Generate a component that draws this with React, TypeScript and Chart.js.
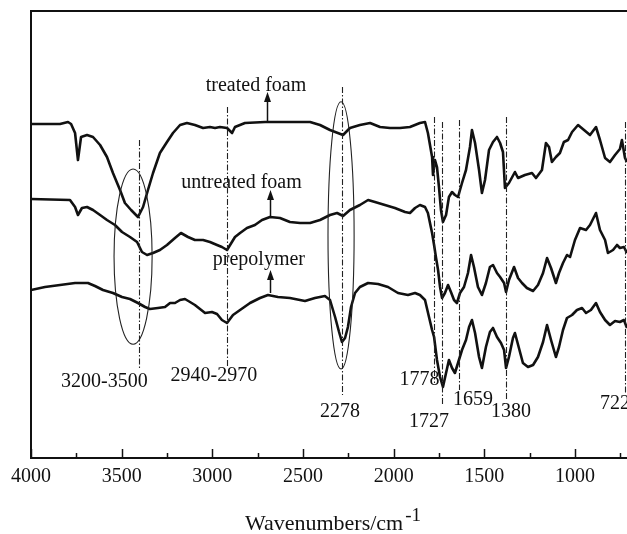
import React, { useEffect, useRef } from "react";
import { Chart, registerables } from "chart.js";

Chart.register(...registerables);

const FONT = "'Liberation Serif', 'Times New Roman', serif";

// x range (wavenumber, cm^-1), reversed axis
const X_MIN = 713;
const X_MAX = 4000;
const MAJOR_STEP = 500;
const xTickValues = [750, 1000, 1250, 1500, 1750, 2000, 2250, 2500, 2750, 3000, 3250, 3500, 3750, 4000];

// treated foam
const treatedWn = [4000, 3923, 3840, 3796, 3779, 3757, 3741, 3724, 3691, 3658, 3619, 3581, 3548, 3509, 3482, 3448, 3410, 3382, 3355, 3327, 3289, 3250, 3217, 3178, 3140, 3096, 3051, 3013, 2985, 2958, 2919, 2891, 2875, 2820, 2709, 2572, 2461, 2406, 2351, 2279, 2241, 2186, 2130, 2075, 2020, 1965, 1910, 1855, 1827, 1811, 1788, 1783, 1772, 1761, 1750, 1739, 1728, 1711, 1695, 1678, 1662, 1645, 1623, 1601, 1579, 1568, 1551, 1529, 1513, 1496, 1474, 1452, 1430, 1413, 1397, 1386, 1364, 1331, 1314, 1276, 1237, 1215, 1182, 1160, 1143, 1127, 1105, 1083, 1061, 1038, 1016, 983, 950, 917, 884, 862, 834, 807, 779, 752, 741, 724, 713];
const treatedT = [83.75, 83.75, 83.75, 84.25, 83.75, 81.5, 74.75, 80.5, 81, 80.5, 78.5, 75.5, 71.5, 67.25, 64, 62.25, 60.5, 63, 67.25, 71.5, 76.5, 79.25, 81.5, 83.5, 84, 83.5, 82.75, 83, 82.75, 83, 82.75, 81.5, 83, 84, 84.25, 84.25, 84.25, 83.5, 82.25, 81, 82.75, 83.5, 84, 83, 82.75, 82.75, 83, 84, 84.25, 81.5, 75.5, 71, 74.75, 73, 68, 62.25, 59.25, 61, 65.5, 66.75, 66, 65.5, 69, 72.25, 78, 82.25, 79, 72.25, 66.5, 69.75, 77.25, 79.25, 80.5, 79, 76.75, 67.75, 69, 71.75, 70.25, 71, 71.5, 70.25, 72.25, 79, 78, 74.25, 75.5, 76.5, 79.25, 79.75, 81.75, 83.5, 82.25, 81, 83, 79.75, 75.25, 74.25, 76, 77.5, 79.75, 75.25, 74.25];

// untreated foam
const untreatedWn = [4000, 3785, 3757, 3741, 3719, 3691, 3658, 3619, 3581, 3537, 3498, 3454, 3415, 3388, 3360, 3327, 3289, 3250, 3206, 3173, 3134, 3096, 3051, 3013, 2974, 2947, 2919, 2875, 2847, 2809, 2765, 2726, 2682, 2627, 2572, 2516, 2461, 2406, 2351, 2312, 2279, 2241, 2186, 2141, 2103, 2048, 1993, 1937, 1910, 1882, 1855, 1827, 1811, 1788, 1777, 1766, 1755, 1744, 1733, 1717, 1700, 1684, 1667, 1651, 1634, 1612, 1590, 1573, 1557, 1535, 1513, 1491, 1469, 1452, 1430, 1413, 1391, 1380, 1364, 1336, 1314, 1292, 1265, 1231, 1204, 1176, 1154, 1132, 1105, 1088, 1066, 1044, 1027, 1000, 972, 939, 917, 884, 862, 834, 818, 790, 768, 752, 730, 713];
const untreatedT = [65, 64.75, 63, 61, 62.75, 63, 62.25, 61, 59.75, 58.5, 56.75, 55.5, 54.25, 51.75, 51, 51.5, 52.25, 53.5, 55.25, 56.5, 55.5, 54.75, 54.75, 54.25, 53.5, 53, 52.25, 55.5, 56.5, 57.75, 58.5, 59.75, 60.5, 60.25, 59.25, 59, 59, 59.75, 61, 61.5, 60.75, 62.25, 63.5, 64.75, 64.25, 63.5, 62.75, 61.75, 61.5, 62.75, 63.5, 63, 61.5, 56.5, 53.5, 50.25, 47.25, 43, 40.25, 41.5, 43.5, 41.75, 39.75, 39, 41.5, 43, 46.5, 51, 48, 43, 41, 44, 48, 48.5, 46.5, 45.5, 44, 41.75, 44.75, 48, 45.25, 44, 42.75, 42, 43.5, 46.5, 50.25, 47.75, 44, 46.5, 49, 51, 50.5, 54.75, 57.75, 57.25, 58.5, 61.5, 57.25, 54.75, 51.5, 52.25, 53.5, 52.75, 53, 51.5];

// prepolymer
const prepolymerWn = [4000, 3923, 3840, 3757, 3686, 3647, 3603, 3548, 3498, 3454, 3410, 3371, 3344, 3300, 3261, 3233, 3206, 3178, 3151, 3123, 3096, 3068, 3040, 3002, 2974, 2947, 2919, 2886, 2847, 2792, 2737, 2693, 2638, 2572, 2489, 2434, 2379, 2351, 2323, 2301, 2285, 2268, 2252, 2235, 2213, 2186, 2141, 2086, 2031, 1976, 1921, 1882, 1855, 1827, 1805, 1788, 1777, 1761, 1744, 1728, 1711, 1695, 1678, 1662, 1645, 1623, 1601, 1584, 1568, 1551, 1529, 1513, 1491, 1469, 1452, 1430, 1408, 1391, 1380, 1364, 1342, 1331, 1309, 1287, 1259, 1231, 1204, 1176, 1154, 1132, 1105, 1088, 1066, 1044, 1016, 989, 961, 939, 912, 884, 862, 834, 807, 779, 752, 730, 713];
const prepolymerT = [42.25, 43, 43.5, 44, 44, 43.25, 42.25, 41.5, 40.5, 40, 39, 38, 37.5, 37.75, 38, 39, 39, 39.75, 40, 39.25, 38.5, 37.5, 36.5, 36.75, 36.25, 34.75, 34, 36, 37.25, 39, 40.25, 41, 40.5, 40.25, 39.5, 40.25, 40.75, 39.75, 35.5, 31.75, 29.25, 30.25, 33, 38, 41.5, 43, 44, 43.75, 43, 41.5, 41, 41.5, 41, 39.75, 35.5, 32.25, 30.5, 24.75, 20.5, 18, 21.5, 24.75, 22.75, 21.5, 24, 27.25, 29.75, 33, 34.75, 31.5, 25.5, 22.75, 28, 31.75, 32.75, 30.5, 29, 27.25, 22.75, 25.5, 30.25, 31.5, 27.75, 24, 23, 23.5, 25.5, 29.25, 33.5, 29.75, 25.5, 28, 32.25, 35.25, 36, 37.25, 37.75, 36.5, 37.25, 39, 36.75, 34.75, 33.5, 34.5, 34.25, 34.75, 32.75];

// dash-dot marker lines
const markWn = [3404, 2919, 2285, 1777, 1733, 1640, 1380, 724];
const markTop = [79.75, 88, 93, 85.5, 84.25, 84.75, 85.5, 84.25];
const markBottom = [22.75, 23, 16, 19, 13.5, 17.25, 14.75, 16.5];

// band labels
const bandLabels = ["3200-3500", "2940-2970", "2278", "1778", "1727", "1659", "1380", "722"];
const bandLabelWn = [3595, 2991, 2296, 1857, 1805, 1562, 1353, 779];
const bandLabelY = [18.1, 19.4, 10.4, 18.6, 7.9, 13.4, 10.6, 12.6];

// curve names with arrows
const seriesNames = ["treated foam", "untreated foam", "prepolymer"];
const nameWn = [2759, 2839, 2743];
const nameY = [92, 67.75, 48.5];
const arrowWn = [2698, 2682, 2682];
const arrowBase = [84.25, 60.25, 41.5];
const arrowTip = [91.75, 67.25, 47.25];

// ellipses (center wn, center y, radius wn, radius y)
const ellCx = [3437, 2290];
const ellCy = [50.6, 55.9];
const ellRx = [105, 72];
const ellRy = [21.9, 33.4];

const INK = "#111";

const isMajor = (v: number) => Math.abs(v - Math.round(v / MAJOR_STEP) * MAJOR_STEP) < 1e-3;

const annotPlugin = {
  id: "ftirAnnotations",
  afterDatasetsDraw(chart: any) {
    const ctx = chart.ctx as CanvasRenderingContext2D;
    const xs = chart.scales.x;
    const ys = chart.scales.y;
    const area = chart.chartArea;
    ctx.save();

    // inward ticks
    ctx.strokeStyle = INK;
    ctx.lineWidth = 1.5;
    ctx.setLineDash([]);
    for (const t of xs.ticks) {
      const px = Math.round(xs.getPixelForValue(t.value)) + 0.5;
      const len = isMajor(t.value) ? 9 : 5;
      ctx.beginPath();
      ctx.moveTo(px, area.bottom);
      ctx.lineTo(px, area.bottom - len);
      ctx.stroke();
    }

    // dash-dot marker lines
    ctx.lineWidth = 1.1;
    ctx.strokeStyle = "#222";
    ctx.setLineDash([6, 2, 1.5, 2]);
    markWn.forEach((w, i) => {
      const px = Math.round(xs.getPixelForValue(w)) + 0.5;
      ctx.beginPath();
      ctx.moveTo(px, ys.getPixelForValue(markTop[i]));
      ctx.lineTo(px, ys.getPixelForValue(markBottom[i]));
      ctx.stroke();
    });
    ctx.setLineDash([]);

    // ellipses
    ctx.lineWidth = 1.1;
    ctx.strokeStyle = "#222";
    ellCx.forEach((cx, i) => {
      const px = xs.getPixelForValue(cx);
      const py = ys.getPixelForValue(ellCy[i]);
      const rx = Math.abs(xs.getPixelForValue(cx + ellRx[i]) - px);
      const ry = Math.abs(ys.getPixelForValue(ellCy[i] + ellRy[i]) - py);
      ctx.beginPath();
      ctx.ellipse(px, py, rx, ry, 0, 0, Math.PI * 2);
      ctx.stroke();
    });

    // arrows
    ctx.fillStyle = INK;
    ctx.strokeStyle = INK;
    ctx.lineWidth = 1.5;
    arrowWn.forEach((w, i) => {
      const px = Math.round(xs.getPixelForValue(w)) + 0.5;
      const yb = ys.getPixelForValue(arrowBase[i]);
      const yt = ys.getPixelForValue(arrowTip[i]);
      ctx.beginPath();
      ctx.moveTo(px, yb);
      ctx.lineTo(px, yt + 8);
      ctx.stroke();
      ctx.beginPath();
      ctx.moveTo(px, yt);
      ctx.lineTo(px - 3.5, yt + 10);
      ctx.lineTo(px + 3.5, yt + 10);
      ctx.closePath();
      ctx.fill();
    });

    // texts
    ctx.fillStyle = INK;
    ctx.font = `20px ${FONT}`;
    ctx.textAlign = "center";
    ctx.textBaseline = "alphabetic";
    seriesNames.forEach((s, i) => {
      ctx.fillText(s, xs.getPixelForValue(nameWn[i]), ys.getPixelForValue(nameY[i]));
    });
    bandLabels.forEach((s, i) => {
      ctx.fillText(s, xs.getPixelForValue(bandLabelWn[i]), ys.getPixelForValue(bandLabelY[i]));
    });

    // axis title with superscript
    const main = "Wavenumbers/cm";
    const sup = "-1";
    ctx.font = `22px ${FONT}`;
    const wMain = ctx.measureText(main).width;
    ctx.font = `19px ${FONT}`;
    const wSup = ctx.measureText(sup).width;
    const total = wMain + 2 + wSup;
    const x0 = 333 - total / 2;
    const base = area.bottom + 72;
    ctx.textAlign = "left";
    ctx.font = `22px ${FONT}`;
    ctx.fillText(main, x0, base);
    ctx.font = `19px ${FONT}`;
    ctx.fillText(sup, x0 + wMain + 2, base - 9);

    ctx.restore();
  },
};

export default function App() {
  const ref = useRef<HTMLCanvasElement>(null);

  useEffect(() => {
    if (!ref.current) return;
    const mk = (wn: number[], t: number[]) => wn.map((x, i) => ({ x, y: t[i] }));
    const lineDs = (label: string, data: any[]) => ({
      label,
      data,
      borderColor: INK,
      backgroundColor: INK,
      borderWidth: 2.6,
      pointRadius: 0,
      tension: 0,
      fill: false,
      borderJoinStyle: "round" as const,
    });
    const chart = new Chart(ref.current, {
      type: "line",
      data: {
        datasets: [
          lineDs(seriesNames[0], mk(treatedWn, treatedT)),
          lineDs(seriesNames[1], mk(untreatedWn, untreatedT)),
          lineDs(seriesNames[2], mk(prepolymerWn, prepolymerT)),
        ],
      },
      options: {
        animation: false,
        responsive: false,
        events: [],
        layout: { padding: 0, autoPadding: false },
        plugins: { legend: { display: false }, tooltip: { enabled: false }, title: { display: false } },
        scales: {
          x: {
            type: "linear",
            position: "bottom",
            reverse: true,
            min: X_MIN,
            max: X_MAX,
            grid: { display: false, drawTicks: false },
            border: { display: true, color: INK, width: 2 },
            afterBuildTicks: (s: any) => {
              s.ticks = xTickValues.map((v) => ({ value: v }));
            },
            ticks: {
              autoSkip: false,
              maxRotation: 0,
              minRotation: 0,
              padding: 7,
              color: INK,
              font: { family: FONT, size: 20 },
              callback: (v: any) => (isMajor(Number(v)) ? String(Math.round(Number(v))) : ""),
            },
            afterFit: (s: any) => {
              s.height = 76;
              s.paddingLeft = 0;
              s.paddingRight = 0;
            },
          },
          xTop: {
            type: "linear",
            position: "top",
            reverse: true,
            min: X_MIN,
            max: X_MAX,
            grid: { display: false, drawTicks: false },
            border: { display: true, color: INK, width: 2 },
            ticks: { display: false },
            afterFit: (s: any) => {
              s.height = 11;
              s.paddingLeft = 0;
              s.paddingRight = 0;
            },
          },
          y: {
            type: "linear",
            position: "left",
            min: 0.25,
            max: 112,
            grid: { display: false, drawTicks: false },
            border: { display: true, color: INK, width: 2 },
            ticks: { display: false },
            afterFit: (s: any) => {
              s.width = 31;
              s.paddingTop = 0;
              s.paddingBottom = 0;
            },
          },
        },
      } as any,
      plugins: [annotPlugin],
    });
    return () => chart.destroy();
  }, []);

  return (
    <div style={{ position: "absolute", left: 0, top: 0, width: 627, height: 534, background: "#fff" }}>
      <canvas ref={ref} width={627} height={534} style={{ display: "block" }} />
    </div>
  );
}
